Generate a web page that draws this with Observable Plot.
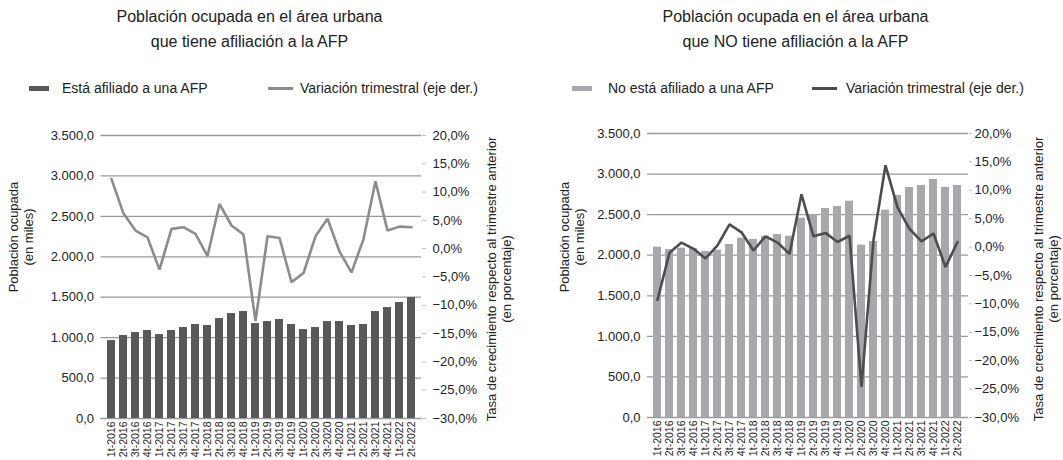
<!DOCTYPE html>
<html>
<head>
<meta charset="utf-8">
<script src="https://cdn.jsdelivr.net/npm/d3@7"></script>
<script src="https://cdn.jsdelivr.net/npm/@observablehq/plot@0.6"></script>
<style>
  body { margin: 0; background: #fff; font-family: "Liberation Sans", Arial, sans-serif; color: #222; }
  #wrap { position: relative; width: 1063px; height: 460px; overflow: hidden; }
  .panel { position: absolute; top: 0; height: 460px; }
  .title { position: absolute; font-size: 16px; line-height: 25px; text-align: center; white-space: nowrap; transform: translateX(-50%); top: 4px; }
  .leg { position: absolute; font-size: 14px; white-space: nowrap; line-height: 16px; top: 80px; }
  .sw { position: absolute; }
  .ytitle { position: absolute; font-size: 13px; line-height: 15px; text-align: center; white-space: nowrap; transform: translate(-50%, -50%) rotate(-90deg); }
  svg { position: absolute; left: 0; top: 0; }
</style>
</head>
<body>
<div id="wrap">
  <div class="panel" id="p1" style="left:0;width:531px;">
    <div class="title" style="left:249.5px;">Población ocupada en el área urbana<br>que tiene afiliación a la AFP</div>
    <div class="sw" style="left:29px;top:85.5px;width:20px;height:5px;background:#58585a;"></div>
    <div class="leg" style="left:62px;">Está afiliado a una AFP</div>
    <div class="sw" style="left:268px;top:87px;width:25px;height:2.5px;background:#8c8c8c;"></div>
    <div class="leg" style="left:300px;">Variación trimestral (eje der.)</div>
    <div class="ytitle" style="left:20.5px;top:237px;">Población ocupada<br>(en miles)</div>
    <div class="ytitle" style="left:499px;top:279px;">Tasa de crecimiento respecto al trimestre anterior<br>(en porcentaje)</div>
  </div>
  <div class="panel" id="p2" style="left:531px;width:532px;">
    <div class="title" style="left:264.5px;">Población ocupada en el área urbana<br>que NO tiene afiliación a la AFP</div>
    <div class="sw" style="left:41px;top:85.5px;width:20px;height:5px;background:#a7a8ab;"></div>
    <div class="leg" style="left:77px;">No está afiliado a una AFP</div>
    <div class="sw" style="left:281px;top:87px;width:25px;height:2.5px;background:#4d4d4f;"></div>
    <div class="leg" style="left:315px;">Variación trimestral (eje der.)</div>
    <div class="ytitle" style="left:41px;top:237px;">Población ocupada<br>(en miles)</div>
    <div class="ytitle" style="left:515px;top:279px;">Tasa de crecimiento respecto al trimestre anterior<br>(en porcentaje)</div>
  </div>
</div>
<script>
const quarters = [
  "1t-2016","2t-2016","3t-2016","4t-2016",
  "1t-2017","2t-2017","3t-2017","4t-2017",
  "1t-2018","2t-2018","3t-2018","4t-2018",
  "1t-2019","2t-2019","3t-2019","4t-2019",
  "1t-2020","2t-2020","3t-2020","4t-2020",
  "1t-2021","2t-2021","3t-2021","4t-2021",
  "1t-2022","2t-2022"
];
// Población ocupada (miles)
const afiliados = [964,1026,1063,1088,1038,1088,1125,1162,1150,1236,1298,1323,1174,1199,1224,1162,1100,1125,1199,1199,1150,1162,1323,1372,1434,1496];
const noAfiliados = [2099,2070,2087,2083,2046,2062,2132,2210,2194,2234,2255,2234,2456,2502,2576,2600,2666,2124,2169,2555,2736,2835,2859,2933,2835,2859];
// Variación trimestral (%)
const varAfiliados = [12.3,6.2,3.2,2.0,-3.7,3.5,3.8,2.6,-1.3,7.9,4.1,2.5,-12.8,2.2,1.9,-5.9,-4.3,2.2,5.3,-0.5,-4.2,1.7,11.9,3.2,3.9,3.8];
const varNoAfiliados = [-9.3,-1.0,0.8,-0.3,-2.0,0.3,4.0,2.6,-0.6,1.9,0.8,-1.2,9.3,1.9,2.5,0.9,2.0,-24.6,1.2,14.4,7.0,3.2,1.0,2.4,-3.5,0.9];
// Ejes
const leftTicks = [0,500,1000,1500,2000,2500,3000,3500];
const rightTicks = [-30,-25,-20,-15,-10,-5,0,5,10,15,20];

const locale = d3.formatLocale({decimal: ",", thousands: ".", grouping: [3], currency: ["", ""]});
const fmtNum = locale.format(",.1f");
const fmtPct = v => locale.format(".1f")(v) + "%";
const LMAX = 3500, PMIN = -30, PMAX = 20;
const toLeft = p => (p - PMIN) / (PMAX - PMIN) * LMAX;
const fromLeft = v => Math.round((v / LMAX * (PMAX - PMIN) + PMIN) * 10) / 10;

function panel({values, pct, barColor, lineColor, width, marginLeft, marginRight, marginTop, marginBottom, rightTickSize, rightPad}) {
  const data = quarters.map((q, i) => ({q, v: values[i], p: pct[i]}));
  return Plot.plot({
    width, height: 460, marginTop, marginBottom, marginLeft, marginRight,
    style: {fontFamily: "'Liberation Sans', Arial, sans-serif", fontSize: "13px", color: "#222", background: "transparent"},
    x: {type: "band", domain: quarters, padding: 0.3, axis: null, label: null},
    y: {domain: [0, LMAX], axis: null, label: null},
    marks: [
      Plot.ruleY(leftTicks, {stroke: "#9a9a9a", strokeWidth: 1.3}),
      Plot.barY(data, {x: "q", y: "v", fill: barColor}),
      Plot.line(data, {x: "q", y: d => toLeft(d.p), stroke: lineColor, strokeWidth: 2.6, strokeLinejoin: "miter"}),
      Plot.axisY({anchor: "left", label: null, ticks: leftTicks, tickFormat: fmtNum, tickSize: 0, tickPadding: 7, fontSize: 13, fill: "#222"}),
      Plot.axisY({anchor: "right", label: null, ticks: rightTicks.map(toLeft), tickFormat: d => fmtPct(fromLeft(d)), tickSize: rightTickSize, tickPadding: rightPad, stroke: "#bbb", fontSize: 13, fill: "#222"}),
      Plot.axisX({anchor: "bottom", label: null, tickSize: 0, tickPadding: 3, tickRotate: -90, fontSize: 10.5, fontFamily: "'Liberation Sans Narrow', 'Liberation Sans', Arial, sans-serif", fill: "#222"})
    ]
  });
}

document.getElementById("p1").appendChild(panel({
  values: afiliados, pct: varAfiliados, barColor: "#58585a", lineColor: "#8c8c8c",
  width: 531, marginLeft: 100.5, marginRight: 110, marginTop: 135, marginBottom: 42,
  rightTickSize: 4, rightPad: 7
}));
document.getElementById("p2").appendChild(panel({
  values: noAfiliados, pct: varNoAfiliados, barColor: "#a7a8ab", lineColor: "#4d4d4f",
  width: 532, marginLeft: 116, marginRight: 95, marginTop: 133, marginBottom: 43,
  rightTickSize: 3, rightPad: 3
}));
</script>
</body>
</html>
